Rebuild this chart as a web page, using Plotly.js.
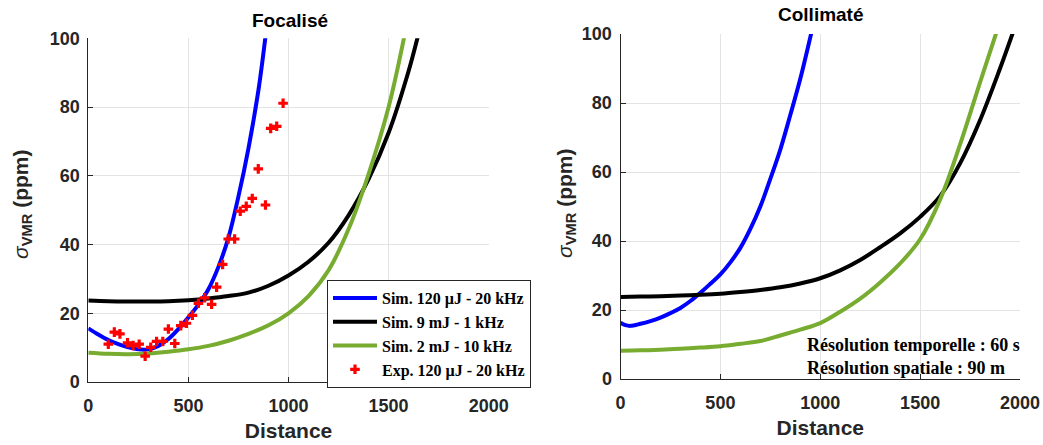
<!DOCTYPE html>
<html>
<head>
<meta charset="utf-8">
<script src="https://cdn.plot.ly/plotly-3.0.1.min.js"></script>
<style>html,body{margin:0;padding:0;background:#fff;}#chart{width:1043px;height:445px;}</style>
</head>
<body>
<div id="chart"></div>
<script>
// ---------- Data ----------
// Focalisé (left panel)
const focBlueX  = [0, 50, 100, 150, 200, 250, 300, 350, 400, 450, 500, 550, 600, 650, 700, 750, 800, 850, 886];
const focBlueY  = [15.6, 13.8, 12.2, 11.0, 10.1, 9.5, 9.5, 10.5, 12.5, 15.4, 18.8, 22.5, 27.0, 33.5, 42.0, 54.0, 68.0, 85.0, 101];
const focBlackX = [0, 100, 200, 300, 400, 500, 600, 700, 800, 900, 1000, 1100, 1200, 1300, 1400, 1500, 1600, 1648];
const focBlackY = [23.7, 23.5, 23.4, 23.4, 23.5, 23.8, 24.3, 25.0, 26.0, 28.0, 31.0, 35.0, 40.5, 48.5, 59.0, 72.5, 90.5, 101];
const focGreenX = [0, 100, 200, 300, 400, 500, 600, 700, 800, 900, 1000, 1100, 1200, 1300, 1400, 1500, 1580];
const focGreenY = [8.5, 8.2, 8.1, 8.3, 8.8, 9.5, 10.5, 12.0, 14.0, 16.5, 20.0, 25.0, 32.5, 44.5, 60.5, 80.0, 101];
const expX = [100, 130, 158, 196, 224, 254, 284, 312, 341, 372, 400, 432, 462, 490, 520, 550, 581, 616, 641, 671, 699, 731, 759, 789, 819, 849, 885, 911, 941, 973];
const expY = [11.0, 14.5, 14.0, 11.4, 10.6, 11.0, 7.5, 10.1, 11.8, 11.8, 15.4, 11.2, 16.4, 17.1, 19.4, 22.9, 24.5, 22.6, 27.6, 34.2, 41.6, 41.6, 49.7, 51.1, 53.4, 62.0, 51.5, 73.8, 74.4, 81.1];

// Collimaté (right panel)
const colBlueX  = [0, 25, 50, 100, 150, 200, 250, 300, 350, 400, 450, 500, 550, 600, 650, 700, 750, 800, 850, 900, 958];
const colBlueY  = [16.3, 15.6, 15.4, 16.0, 16.8, 17.8, 19.1, 20.6, 22.6, 25.0, 27.6, 30.3, 33.8, 38.0, 43.5, 50.0, 58.0, 66.5, 76.5, 87.0, 101];
const colBlackX = [0, 100, 200, 300, 400, 500, 600, 700, 800, 900, 1000, 1100, 1200, 1300, 1400, 1500, 1600, 1700, 1800, 1900, 1968];
const colBlackY = [23.8, 23.9, 24.0, 24.2, 24.4, 24.7, 25.2, 25.8, 26.6, 27.7, 29.2, 31.5, 34.5, 38.2, 42.2, 47.0, 53.0, 62.5, 75.0, 90.0, 101];
const colGreenX = [0, 100, 200, 300, 400, 500, 600, 700, 800, 900, 1000, 1100, 1200, 1300, 1400, 1500, 1600, 1700, 1800, 1885];
const colGreenY = [8.2, 8.3, 8.5, 8.8, 9.1, 9.5, 10.2, 11.0, 12.6, 14.3, 16.2, 19.5, 23.3, 28.0, 33.5, 40.5, 52.0, 68.0, 86.0, 101];

const seriesNames = ['Sim. 120 µJ - 20 kHz', 'Sim. 9 mJ - 1 kHz', 'Sim. 2 mJ - 10 kHz', 'Exp. 120 µJ - 20 kHz'];
const panelTitles = ['Focalisé', 'Collimaté'];
const xTicks = [0, 500, 1000, 1500, 2000];
const yTicks = [0, 20, 40, 60, 80, 100];
const noteLines = ['Résolution temporelle : 60 s', 'Résolution spatiale : 90 m'];

// ---------- Styles ----------
const BLUE = '#0000ff', BLACK = '#000000', GREEN = '#77ac30', RED = '#ff0000';
const LW = 4;
const sans = 'Liberation Sans, Arial, sans-serif';
const serif = 'Liberation Serif, Times New Roman, serif';
const axisCol = '#262626';

function line(x, y, color, name, xa, ya, show) {
  return {x: x, y: y, type: 'scatter', mode: 'lines', name: name,
    line: {color: color, width: LW, shape: 'spline', smoothing: 1},
    xaxis: xa, yaxis: ya, showlegend: show, hoverinfo: 'x+y'};
}

const data = [
  line(focBlueX, focBlueY, BLUE, seriesNames[0], 'x', 'y', true),
  line(focBlackX, focBlackY, BLACK, seriesNames[1], 'x', 'y', true),
  line(focGreenX, focGreenY, GREEN, seriesNames[2], 'x', 'y', true),
  {x: expX, y: expY, type: 'scatter', mode: 'markers', name: seriesNames[3],
   marker: {symbol: 'cross', size: 8, color: RED, line: {width: 0}},
   xaxis: 'x', yaxis: 'y', showlegend: true},
  line(colBlueX, colBlueY, BLUE, seriesNames[0], 'x2', 'y2', false),
  line(colBlackX, colBlackY, BLACK, seriesNames[1], 'x2', 'y2', false),
  line(colGreenX, colGreenY, GREEN, seriesNames[2], 'x2', 'y2', false)
];

function xAxis(domain, anchor) {
  return {domain: domain, anchor: anchor, range: [0, 2000], tickvals: xTicks,
    ticktext: xTicks.map(String),
    showgrid: true, gridcolor: '#e3e3e3', gridwidth: 1, zeroline: false,
    showline: true, linecolor: axisCol, linewidth: 1, mirror: false,
    ticks: 'inside', ticklen: 5, tickcolor: axisCol, ticklabelstandoff: 7,
    tickfont: {family: sans, size: 18, color: axisCol, weight: 'bold'},
    title: {text: 'Distance', standoff: 8, font: {family: sans, size: 21, color: axisCol, weight: 'bold'}},
    fixedrange: true};
}
function yAxis(domain, anchor) {
  return {domain: domain, anchor: anchor, range: [0, 100], tickvals: yTicks,
    ticktext: yTicks.map(String),
    showgrid: true, gridcolor: '#e3e3e3', gridwidth: 1, zeroline: false,
    showline: true, linecolor: axisCol, linewidth: 1, mirror: false,
    ticks: 'inside', ticklen: 5, tickcolor: axisCol, ticklabelstandoff: 4,
    tickfont: {family: sans, size: 18, color: axisCol, weight: 'bold'},
    fixedrange: true};
}

const W = 1043, H = 445;
const layout = {
  width: W, height: H,
  margin: {l: 0, r: 0, t: 0, b: 0},
  paper_bgcolor: '#ffffff', plot_bgcolor: '#ffffff',
  xaxis: xAxis([88.3 / W, 488.7 / W], 'y'),
  yaxis: yAxis([1 - 382 / H, 1 - 38.3 / H], 'x'),
  xaxis2: xAxis([620.5 / W, 1020 / W], 'y2'),
  yaxis2: yAxis([1 - 379 / H, 1 - 34 / H], 'x2'),
  showlegend: true,
  legend: {x: 327 / W, y: 1 - 334 / H, xanchor: 'left', yanchor: 'middle',
    bgcolor: '#ffffff', bordercolor: axisCol, borderwidth: 1,
    font: {family: serif, size: 16, color: '#000000', weight: 'bold'},
    tracegroupgap: 0, itemwidth: 44},
  annotations: [
    {text: panelTitles[0], xref: 'paper', yref: 'paper', x: 290 / W, y: 1 - 20 / H,
     xanchor: 'center', yanchor: 'middle', showarrow: false,
     font: {family: sans, size: 19, color: '#000000', weight: 'bold'}},
    {text: panelTitles[1], xref: 'paper', yref: 'paper', x: 821 / W, y: 1 - 15 / H,
     xanchor: 'center', yanchor: 'middle', showarrow: false,
     font: {family: sans, size: 19, color: '#000000', weight: 'bold'}},
    {text: '<i>σ</i><sub><b>VMR</b></sub><b> (ppm)</b>', xref: 'paper', yref: 'paper',
     x: 22 / W, y: 1 - 205 / H, xanchor: 'center', yanchor: 'middle', textangle: -90,
     showarrow: false, font: {family: sans, size: 21, color: axisCol}},
    {text: '<i>σ</i><sub><b>VMR</b></sub><b> (ppm)</b>', xref: 'paper', yref: 'paper',
     x: 566 / W, y: 1 - 204 / H, xanchor: 'center', yanchor: 'middle', textangle: -90,
     showarrow: false, font: {family: sans, size: 21, color: axisCol}},
    {text: noteLines.join('<br>'), xref: 'paper', yref: 'paper',
     x: 805 / W, y: 1 - 356 / H, xanchor: 'left', yanchor: 'middle', align: 'left',
     showarrow: false, font: {family: serif, size: 18, color: '#000000', weight: 'bold'}}
  ]
};

Plotly.newPlot('chart', data, layout, {staticPlot: true, displayModeBar: false});
</script>
</body>
</html>
